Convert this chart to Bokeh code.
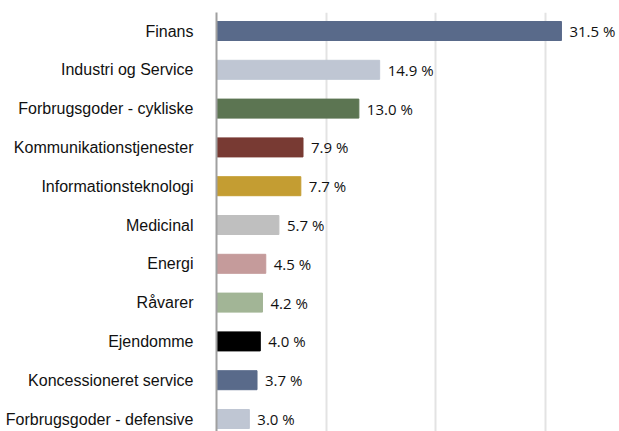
from bokeh.plotting import figure
from bokeh.models import Range1d, FixedTicker, ColumnDataSource, LabelSet
from bokeh.core.properties import value
from bokeh.embed import file_html
from bokeh.resources import INLINE

categories = ["Finans", "Industri og Service", "Forbrugsgoder - cykliske",
              "Kommunikationstjenester", "Informationsteknologi", "Medicinal",
              "Energi", "Råvarer", "Ejendomme", "Koncessioneret service",
              "Forbrugsgoder - defensive"]
values = [31.5, 14.9, 13.0, 7.9, 7.7, 5.7, 4.5, 4.2, 4.0, 3.7, 3.0]
colors = ["#596a8a", "#bfc6d3", "#5c7552", "#783a33", "#c49d32", "#bfbfbf",
          "#c59b9b", "#a2b596", "#000000", "#596a8a", "#bfc6d3"]
grid_ticks = [10, 20, 30]

pos = list(range(len(categories)))
labels = [f"{v:.1f} %" for v in values]
src = ColumnDataSource(dict(y=pos, v=values, c=colors, lab=labels))

p = figure(width=619, height=431, output_backend="svg", toolbar_location=None,
           x_range=Range1d(0, 36.8), y_range=Range1d(10.322, -0.477),
           min_border_left=216, min_border_right=0, min_border_top=12,
           min_border_bottom=0)
p.hbar(y="y", right="v", left=0, height=0.49, color="c", source=src)
p.add_layout(LabelSet(x="v", y="y", text="lab", source=src, x_offset=8,
                      text_baseline="middle", text_font=value("Open Sans"),
                      text_font_size="15px", text_color="#111111"))

p.xaxis.visible = False
p.xgrid.ticker = FixedTicker(ticks=grid_ticks)
p.xgrid.grid_line_color = "#e3e3e3"
p.xgrid.grid_line_width = 2
p.ygrid.visible = False

ya = p.yaxis[0]
ya.ticker = FixedTicker(ticks=pos)
ya.major_label_overrides = {i: c for i, c in enumerate(categories)}
ya.major_tick_line_color = None
ya.minor_tick_line_color = None
ya.axis_line_color = "#a0a0a0"
ya.axis_line_width = 2
ya.major_label_standoff = 17
ya.major_label_text_font = "Liberation Sans"
ya.major_label_text_font_size = "16px"
ya.major_label_text_color = "#111111"
p.outline_line_color = None

open("out.html", "w").write(file_html(p, INLINE))
